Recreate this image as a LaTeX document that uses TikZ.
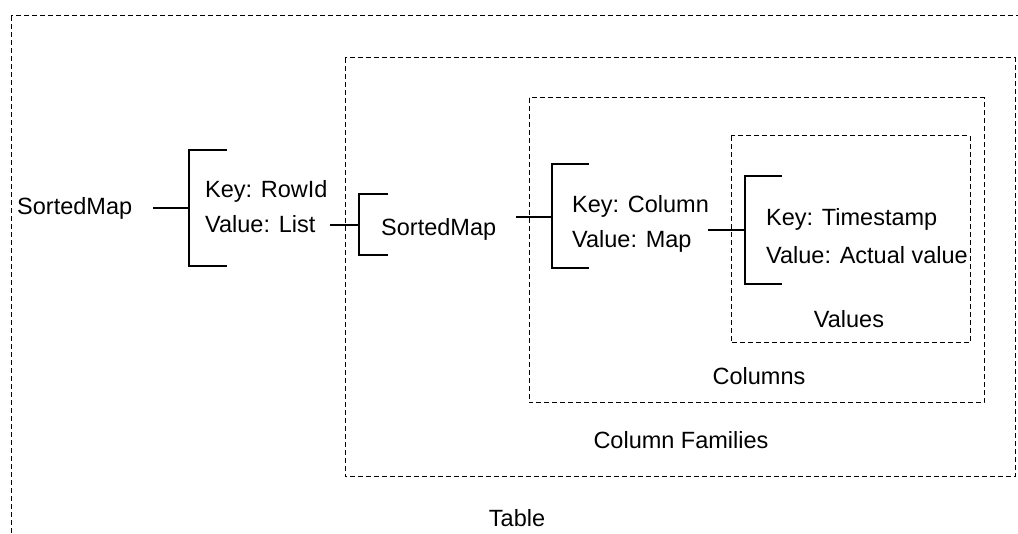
\documentclass[tikz,border=0pt]{standalone}
\usepackage{fontspec}
\setmainfont{Liberation Sans}
\begin{document}
\begin{tikzpicture}[x=1pt,y=-1pt,
  lbl/.style={inner sep=0pt, font=\fontsize{23.5}{28}\selectfont, text height=16pt, text depth=0pt},
  region/.style={draw, line width=1pt, dash pattern=on 5pt off 3pt},
  brk/.style={draw, line width=2pt, line cap=butt, line join=miter},
  link/.style={draw, line width=2pt}]
\useasboundingbox (0,0) rectangle (1018,534);
\clip (0,0) rectangle (1018,534);
\fill[white] (0,0) rectangle (1018,534);

% nested dashed regions
\path[region] (11,16) rectangle (1040,560);
\path[region] (345,58) rectangle (1015,477);
\path[region] (529,98) rectangle (984,403);
\path[region] (731,136) rectangle (970,343);

% region captions
\node[lbl] (table) at (517,518) {Table};
\node[lbl] (cf) at (681,441) {Column Families};
\node[lbl] (cols) at (759,377) {Columns};
\node[lbl] (vals) at (849,320) {Values};

% outer map
\node[lbl, anchor=west] (sm1) at (17,207) {SortedMap};
\coordinate (c1) at (153,208);
\coordinate (b1) at (189,208);
\path[brk] (227,150) -- (189,150) -- (189,266) -- (227,266);
\node[lbl, anchor=west] (k1) at (205,190) {Key: RowId};
\node[lbl, anchor=west] (v1) at (205,225) {Value: List};
\path[link] (c1) -- (b1);

% column families map
\coordinate (c2) at (330,225);
\coordinate (b2) at (359,225);
\path[brk] (388,194) -- (359,194) -- (359,255) -- (388,255);
\node[lbl, anchor=west] (sm2) at (381,228) {SortedMap};
\path[link] (c2) -- (b2);

% columns map
\coordinate (c3) at (516,217);
\coordinate (b3) at (552,217);
\path[brk] (589,164) -- (552,164) -- (552,268) -- (589,268);
\node[lbl, anchor=west] (k3) at (572,205) {Key: Column};
\node[lbl, anchor=west] (v3) at (572,240) {Value: Map};
\path[link] (c3) -- (b3);

% values map
\coordinate (c4) at (708,230);
\coordinate (b4) at (745,230);
\path[brk] (782,176) -- (745,176) -- (745,284) -- (782,284);
\node[lbl, anchor=west] (k4) at (766,218) {Key: Timestamp};
\node[lbl, anchor=west] (v4) at (766,256) {Value: Actual value};
\path[link] (c4) -- (b4);
\end{tikzpicture}
\end{document}
